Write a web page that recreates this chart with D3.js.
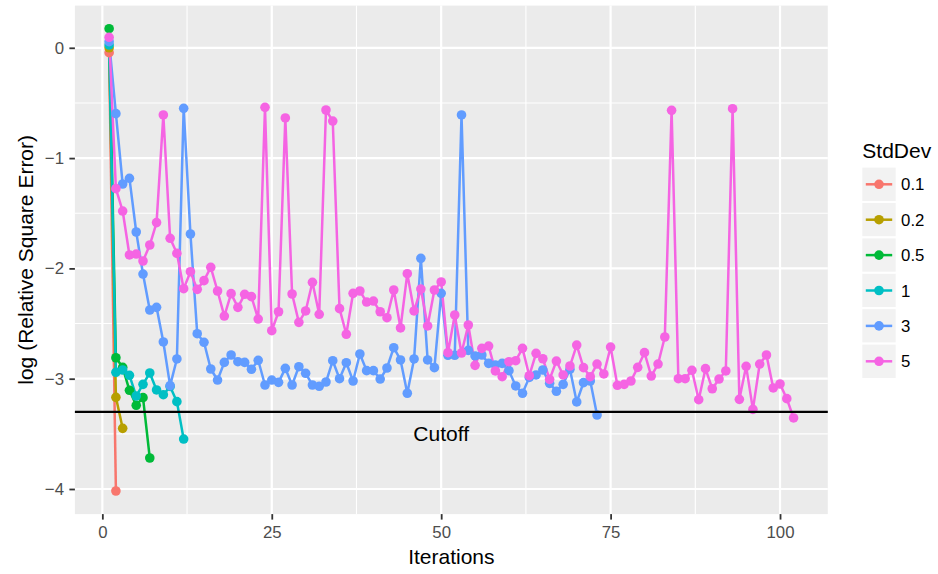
<!DOCTYPE html>
<html>
<head>
<meta charset="utf-8">
<script src="https://cdn.jsdelivr.net/npm/d3@7"></script>
<style>
  html, body { margin: 0; padding: 0; background: #ffffff; }
  svg { display: block; font-family: "Liberation Sans", Arial, Helvetica, sans-serif; }
</style>
</head>
<body>
<svg id="chart" width="938" height="574"></svg>
<script>
// ---------------- data ----------------
const seriesNames = ["0.1", "0.2", "0.5", "1", "3", "5"];
const seriesColors = ["#F8766D", "#B79F00", "#00BA38", "#00BFC4", "#619CFF", "#F564E3"];

// values for iterations 1..n
const sd01 = [-0.044, -4.018];
const sd02 = [0.000, -3.169, -3.450];
const sd05 = [0.173, -2.810, -2.897, -3.105, -3.241, -3.172, -3.719];
const sd1  = [0.025, -2.942, -2.921, -2.969, -3.157, -3.051, -2.948, -3.102, -3.145, -3.070, -3.208, -3.547];
const sd3  = [0.055, -0.597, -1.235, -1.183, -1.670, -2.051, -2.377, -2.353, -2.667, -3.063,
              -2.821, -0.549, -1.688, -2.592, -2.670, -2.912, -3.012, -2.852, -2.785, -2.846,
              -2.852, -2.915, -2.833, -3.057, -3.012, -3.033, -2.906, -3.057, -2.891, -2.951,
              -3.057, -3.069, -3.030, -2.837, -3.000, -2.855, -3.021, -2.776, -2.927, -2.927,
              -3.003, -2.903, -2.719, -2.830, -3.132, -2.821, -1.909, -2.830, -2.900, -2.226,
              -2.788, -2.788, -0.609, -2.743, -2.794, -2.785, -2.861, -2.876, -2.861, -2.927,
              -3.066, -3.132, -2.988, -2.966, -2.921, -3.042, -3.114, -3.051, -2.915, -3.211,
              -3.036, -3.021, -3.329];
const sd5  = [0.095, -1.277, -1.480, -1.878, -1.870, -1.933, -1.788, -1.585, -0.609, -1.727,
              -1.863, -2.184, -2.030, -2.190, -2.111, -1.990, -2.205, -2.432, -2.229, -2.353,
              -2.235, -2.256, -2.459, -0.540, -2.565, -2.393, -0.636, -2.232, -2.489, -2.386,
              -2.126, -2.416, -0.564, -0.664, -2.365, -2.597, -2.226, -2.205, -2.305, -2.296,
              -2.393, -2.447, -2.196, -2.540, -2.048, -2.386, -2.187, -2.522, -2.196, -2.123,
              -2.764, -2.422, -2.767, -2.513, -2.879, -2.725, -2.704, -2.930, -2.982, -2.846,
              -2.837, -2.725, -2.973, -2.770, -2.819, -3.006, -2.840, -2.966, -2.885, -2.695,
              -2.900, -2.982, -2.867, -2.957, -2.713, -3.060, -3.051, -3.021, -2.897, -2.764,
              -2.976, -2.867, -2.622, -0.567, -3.000, -3.000, -2.924, -3.190, -2.909, -3.091,
              -3.003, -2.930, -0.552, -3.187, -2.888, -3.278, -2.867, -2.785, -3.084, -3.048,
              -3.181, -3.356];

const xTicks = [0, 25, 50, 75, 100];
const xMinor = [12.5, 37.5, 62.5, 87.5];
const yTicks = [0, -1, -2, -3, -4];
const yMinor = [-0.5, -1.5, -2.5, -3.5];
const cutoffValue = -3.301;
const cutoffLabel = "Cutoff";
const cutoffLabelPos = [50, -3.5];
const xTitle = "Iterations";
const yTitle = "log (Relative Square Error)";
const legendTitle = "StdDev";

// ---------------- layout ----------------
const panel = { left: 74.9, right: 827.8, top: 5.6, bottom: 514.1 };
const allValues = [sd01, sd02, sd05, sd1, sd3, sd5];
const series = seriesNames.map((name, k) => ({
  name, color: seriesColors[k],
  points: allValues[k].map((v, i) => ({ it: i + 1, v }))
}));

const flat = series.flatMap(s => s.points);
const xExt = d3.extent(flat, d => d.it);
const yExt = d3.extent(flat, d => d.v);
const xPad = (xExt[1] - xExt[0]) * 0.05;
const yPad = (yExt[1] - yExt[0]) * 0.05;

const x = d3.scaleLinear().domain([xExt[0] - xPad, xExt[1] + xPad]).range([panel.left, panel.right]);
const y = d3.scaleLinear().domain([yExt[0] - yPad, yExt[1] + yPad]).range([panel.bottom, panel.top]);

const svg = d3.select("#chart");

// panel background
svg.append("rect")
  .attr("x", panel.left).attr("y", panel.top)
  .attr("width", panel.right - panel.left).attr("height", panel.bottom - panel.top)
  .attr("fill", "#EBEBEB");

const grid = svg.append("g");
grid.selectAll("line.xminor").data(xMinor).join("line")
  .attr("x1", d => x(d)).attr("x2", d => x(d))
  .attr("y1", panel.top).attr("y2", panel.bottom)
  .attr("stroke", "#ffffff").attr("stroke-width", 1.1);
grid.selectAll("line.yminor").data(yMinor).join("line")
  .attr("y1", d => y(d)).attr("y2", d => y(d))
  .attr("x1", panel.left).attr("x2", panel.right)
  .attr("stroke", "#ffffff").attr("stroke-width", 1.1);
grid.selectAll("line.xmajor").data(xTicks).join("line")
  .attr("x1", d => x(d)).attr("x2", d => x(d))
  .attr("y1", panel.top).attr("y2", panel.bottom)
  .attr("stroke", "#ffffff").attr("stroke-width", 2.2);
grid.selectAll("line.ymajor").data(yTicks).join("line")
  .attr("y1", d => y(d)).attr("y2", d => y(d))
  .attr("x1", panel.left).attr("x2", panel.right)
  .attr("stroke", "#ffffff").attr("stroke-width", 2.2);

// lines
const line = d3.line().x(d => x(d.it)).y(d => y(d.v));
svg.append("g").selectAll("path").data(series).join("path")
  .attr("d", d => line(d.points))
  .attr("fill", "none")
  .attr("stroke", d => d.color)
  .attr("stroke-width", 2.5)
  .attr("stroke-linejoin", "round");

// points
const pg = svg.append("g");
series.forEach(s => {
  pg.append("g").selectAll("circle").data(s.points).join("circle")
    .attr("cx", d => x(d.it)).attr("cy", d => y(d.v))
    .attr("r", 4.8).attr("fill", s.color);
});

// cutoff line
svg.append("line")
  .attr("x1", panel.left).attr("x2", panel.right)
  .attr("y1", y(cutoffValue)).attr("y2", y(cutoffValue))
  .attr("stroke", "#000000").attr("stroke-width", 2.4);
svg.append("text")
  .attr("x", x(cutoffLabelPos[0])).attr("y", y(cutoffLabelPos[1]))
  .attr("dy", "0.35em")
  .attr("text-anchor", "middle")
  .attr("font-size", 21).attr("fill", "#000")
  .text(cutoffLabel);

// axes
const fmt = d3.format("d");
const xAxis = svg.append("g")
  .attr("transform", `translate(0,${panel.bottom})`)
  .call(d3.axisBottom(x).tickValues(xTicks).tickSize(5.5).tickPadding(6.5).tickFormat(fmt));
const yAxis = svg.append("g")
  .attr("transform", `translate(${panel.left},0)`)
  .call(d3.axisLeft(y).tickValues(yTicks).tickSize(5.5).tickPadding(5.4).tickFormat(d => d3.format("d")(d)));
[xAxis, yAxis].forEach(a => {
  a.select(".domain").remove();
  a.selectAll(".tick line").attr("stroke", "#333333").attr("stroke-width", 1.8);
  a.selectAll(".tick text").attr("fill", "#4D4D4D").attr("font-size", 16.8)
    .attr("font-family", "Liberation Sans, Arial, sans-serif");
});

// axis titles
svg.append("text")
  .attr("x", (panel.left + panel.right) / 2).attr("y", 564)
  .attr("text-anchor", "middle").attr("font-size", 21).attr("fill", "#000")
  .text(xTitle);
svg.append("text")
  .attr("transform", `translate(32.5,${(panel.top + panel.bottom) / 2}) rotate(-90)`)
  .attr("text-anchor", "middle").attr("font-size", 21).attr("fill", "#000")
  .text(yTitle);

// legend
const legend = svg.append("g");
legend.append("text")
  .attr("x", 862.3).attr("y", 158.3)
  .attr("font-size", 21).attr("fill", "#000")
  .text(legendTitle);
const keyStep = 35.4, keyTop = 166.6, keyLeft = 861.3;
const keys = legend.selectAll("g.key").data(series).join("g")
  .attr("transform", (d, i) => `translate(${keyLeft},${keyTop + i * keyStep})`);
keys.append("rect")
  .attr("width", keyStep).attr("height", keyStep)
  .attr("fill", "#F2F2F2").attr("stroke", "#ffffff").attr("stroke-width", 2);
keys.append("line")
  .attr("x1", 4.5).attr("x2", keyStep - 4.5)
  .attr("y1", keyStep / 2).attr("y2", keyStep / 2)
  .attr("stroke", d => d.color).attr("stroke-width", 2.5);
keys.append("circle")
  .attr("cx", keyStep / 2).attr("cy", keyStep / 2).attr("r", 4.8)
  .attr("fill", d => d.color);
keys.append("text")
  .attr("x", keyStep + 4.4).attr("y", keyStep / 2).attr("dy", "0.36em")
  .attr("font-size", 16.8).attr("fill", "#000")
  .text(d => d.name);
</script>
</body>
</html>
